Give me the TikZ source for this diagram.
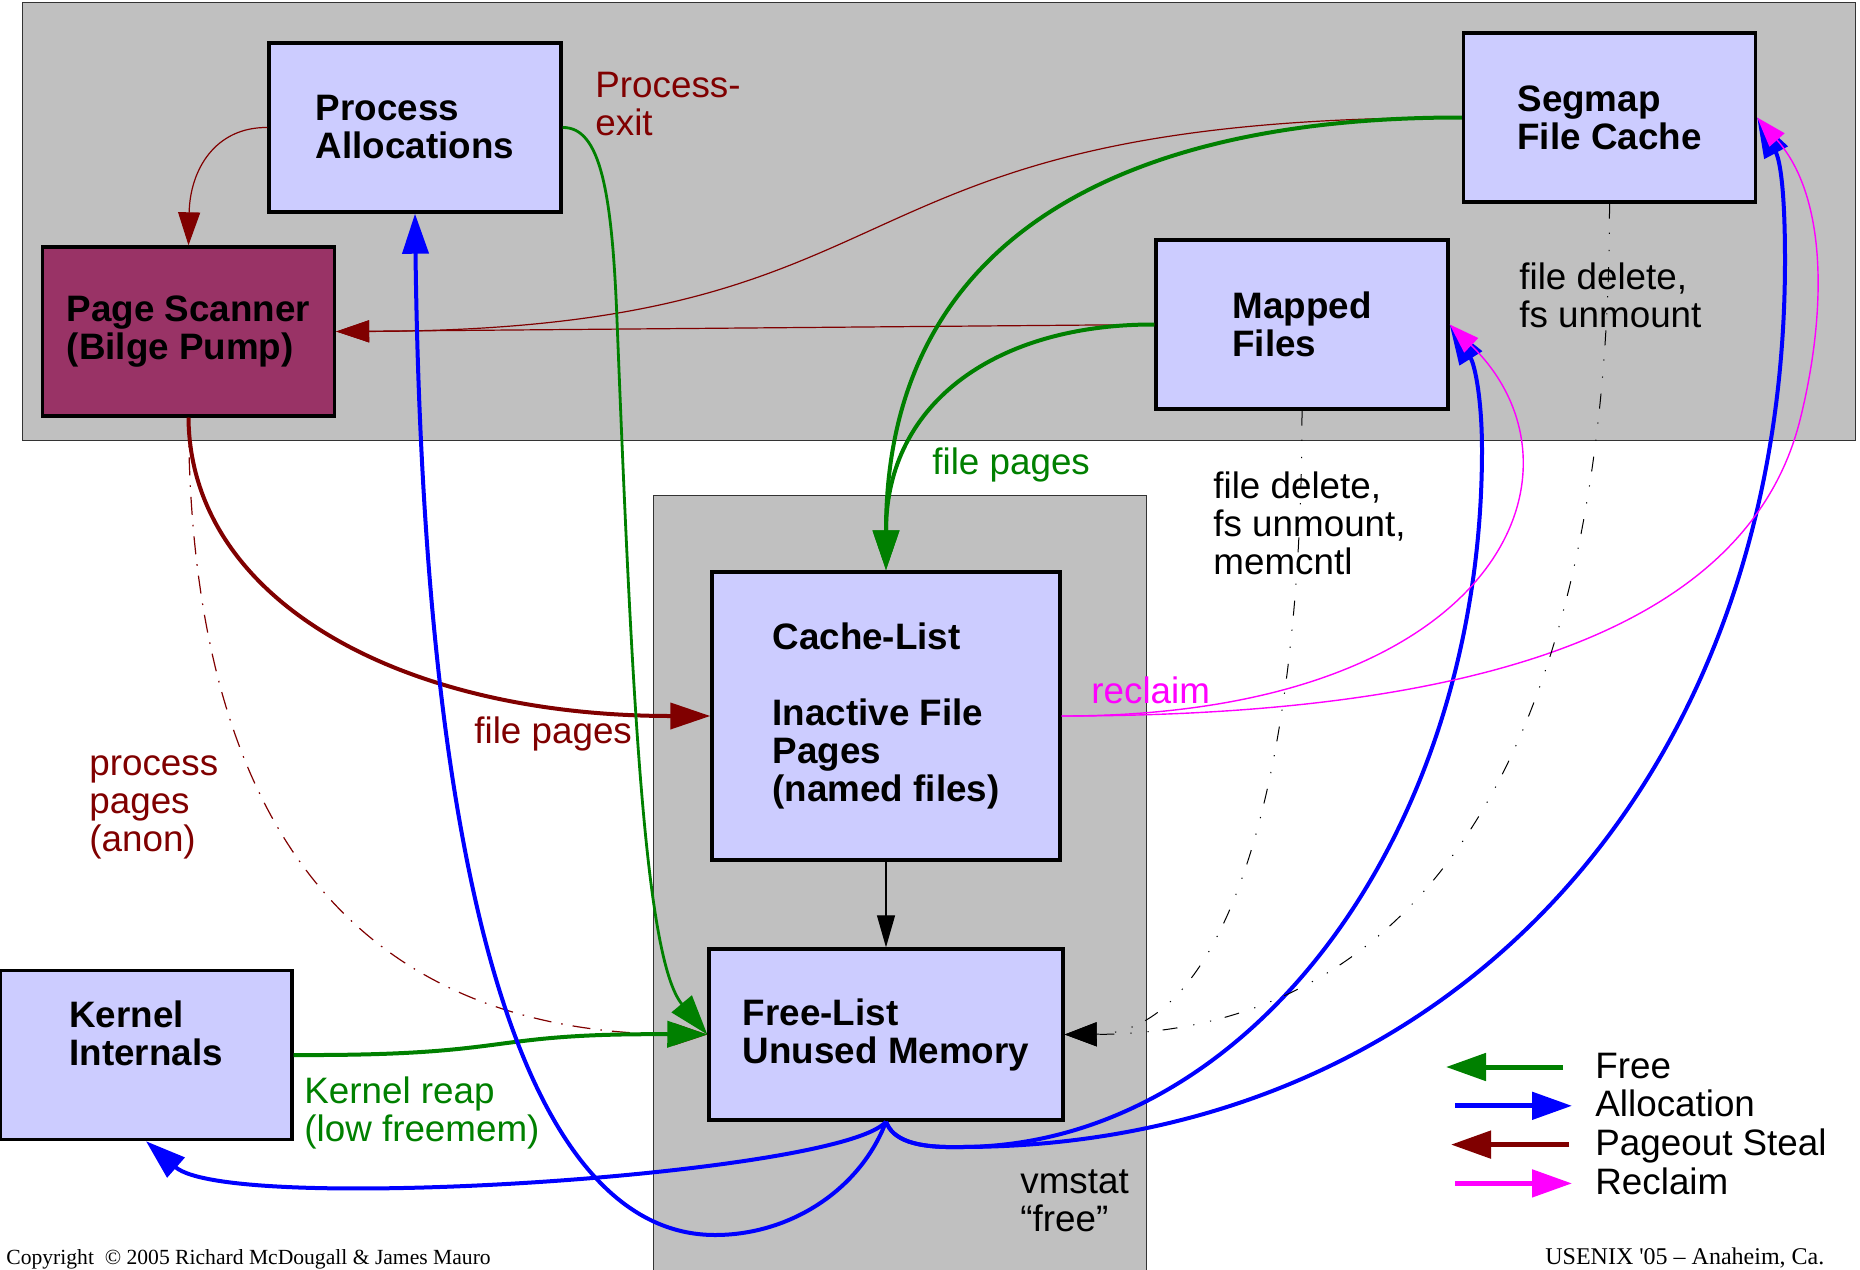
\documentclass[tikz,border=0pt]{standalone}
\usepackage{fontspec}
\setmainfont{Liberation Sans}
\newfontfamily\footfont{Liberation Serif}
\usetikzlibrary{arrows.meta}
\usetikzlibrary{positioning}

\definecolor{boxblue}{RGB}{204,204,255}
\definecolor{scannerred}{RGB}{153,51,102}
\definecolor{bandgray}{RGB}{192,192,192}
\definecolor{stealred}{RGB}{128,0,0}
\definecolor{freegreen}{RGB}{0,128,0}
\definecolor{allocblue}{RGB}{0,0,255}
\definecolor{reclaimpink}{RGB}{255,0,255}

\newcommand{\boxfont}{\fontsize{18.4}{19}\selectfont\bfseries}
\newcommand{\notefont}{\fontsize{18.4}{19}\selectfont}

\begin{document}
\begin{tikzpicture}[
        x=0.5pt, y=-0.5pt,
        box/.style={
            rectangle,
            draw,
            line width=1.7pt,
            fill=boxblue,
            minimum width=146pt,
            minimum height=84.5pt,
            inner sep=0pt,
            align=left,
            font=\boxfont
        },
        note/.style={
            anchor=base west,
            inner sep=0pt,
            align=left,
            font=\notefont
        },
        legtext/.style={
            inner sep=0pt,
            text height=14.7pt,
            text depth=3.7pt,
            font=\notefont
        },
        bigtip/.style={-{Triangle[length=20pt,width=13pt]}},
        freearrow/.style={bigtip, draw=freegreen, line width=2pt},
        freemid/.style={bigtip, draw=freegreen, line width=1.4pt},
        allocarrow/.style={bigtip, draw=allocblue, line width=2pt},
        stealarrow/.style={bigtip, draw=stealred, line width=2pt},
        thinsteal/.style={
            -{Triangle[length=16.5pt,width=11pt]},
            draw=stealred,
            line width=0.6pt
        },
        reclaimarrow/.style={
            -{Triangle[length=15pt,width=10pt]},
            draw=reclaimpink,
            line width=0.7pt
        },
        purge/.style={
            -{Triangle[length=16pt,width=12pt]},
            line width=0.5pt,
            dash pattern=on 7.5pt off 7pt on 0.6pt off 8pt on 0.6pt off 8pt
        },
        legarrow/.style={
            -{Triangle[length=20pt,width=13.5pt]},
            line width=2.5pt
        }
    ]

    \useasboundingbox (0,0) rectangle (1860,1270);

    % Background regions
    \filldraw[fill=bandgray, draw=black!80, line width=0.5pt] (22.5,2) rectangle (1855,440);
    \filldraw[fill=bandgray, draw=black!80, line width=0.5pt] (653.5,495) rectangle (1146.5,1290);

    % Nodes
    \node[box] (procalloc) at (415,127.5) {Process\\Allocations};
    \node[box, fill=scannerred] (scanner) at (188.5,331.5) {Page Scanner\\(Bilge Pump)};
    \node[box] (segmap) at (1609.5,117.5) {Segmap\\File Cache};
    \node[box] (mapped) at (1302,324.5) {Mapped\\Files};
    \node[box, minimum width=174pt, minimum height=144pt] (cachelist) at (886,716)
        {Cache-List\\[19pt]Inactive File\\Pages\\(named files)};
    \node[box, minimum width=177pt, minimum height=85.5pt] (freelist) at (886,1034.5)
        {Free-List\\Unused Memory};
    \node[box, text height=33pt, text depth=23pt] (kernel) at (146,1055) {Kernel\\Internals};

    % Pageout steal
    \draw[thinsteal] (procalloc.west) .. controls (215,127) and (190,170) .. (scanner.north);
    \draw[thinsteal] (segmap.west) .. controls (800,117) and (950,330) .. (scanner.east);
    \draw[thinsteal] (mapped.west) -- (scanner.east);
    \draw[stealarrow] (scanner.south) .. controls (190,600) and (400,716) .. (cachelist.west);
    \draw[thinsteal, dash pattern=on 9pt off 5pt on 0.8pt off 5pt]
        (scanner.south) .. controls (190,920) and (440,1033) .. (freelist.west);

    % Free
    \draw[freemid] (procalloc.east) .. controls (600,127) and (612,190) .. (617,320)
        .. controls (632,700) and (645,960) .. (freelist.west);
    \draw[freearrow] (segmap.west) .. controls (1150,117) and (886,220) .. (cachelist.north);
    \draw[freearrow] (mapped.west) .. controls (1000,324) and (886,400) .. (cachelist.north);
    \draw[freearrow] (kernel.east) .. controls (520,1056) and (480,1033) .. (freelist.west);

    % Allocation
    \draw[allocarrow] (freelist.south) .. controls (860,1190) and (790,1235) .. (715,1235)
        .. controls (560,1235) and (425,1000) .. (procalloc.south);
    \draw[allocarrow] (freelist.south) .. controls (840,1175) and (230,1215) .. (kernel.south);
    \draw[allocarrow] (freelist.south) .. controls (893,1140) and (915,1148) .. (960,1147)
        .. controls (1248,1147) and (1482,835) .. (1482,450)
        .. controls (1482,400) and (1475,365) .. (mapped.east);
    \draw[allocarrow] (freelist.south) .. controls (893,1140) and (915,1148) .. (960,1147)
        .. controls (1450,1147) and (1785,780) .. (1785,260)
        .. controls (1785,190) and (1780,160) .. (segmap.east);

    % Reclaim
    \draw[reclaimarrow] (cachelist.east) .. controls (1500,716) and (1600,470) .. (mapped.east);
    \draw[reclaimarrow] (cachelist.east) .. controls (1500,716) and (1750,620) .. (1800,420)
        .. controls (1825,320) and (1830,200) .. (segmap.east);

    % File delete paths
    \draw[purge] (mapped.south) .. controls (1302,800) and (1220,1033) .. (freelist.east);
    \draw[purge] (segmap.south) .. controls (1610,700) and (1450,1033) .. (freelist.east);
    \draw[-{Triangle[length=16pt,width=9pt]}, line width=0.6pt] (cachelist.south) -- (freelist.north);

    % Labels (placed at the baseline of their last line)
    \node[note, text=stealred] (exitnote) at (595,135) {Process-\\exit};
    \node[note, text=freegreen] (cachenote) at (932,474) {file pages};
    \node[note] (mappednote) at (1213,574) {file delete,\\fs unmount,\\memcntl};
    \node[note] (segmapnote) at (1519,327) {file delete,\\fs unmount};
    \node[note, text=reclaimpink] (reclaimnote) at (1091,703) {reclaim};
    \node[note, text=stealred] (filenote) at (474,743) {file pages};
    \node[note, text=stealred] (anonnote) at (89,851) {process\\pages\\(anon)};
    \node[note, text=freegreen] (reapnote) at (304,1141) {Kernel reap\\(low freemem)};
    \node[note] (vmstatnote) at (1020,1231) {vmstat\\“free”};

    % Legend
    \node[legtext, anchor=base west] (lfree) at (1595,1078) {Free};
    \node[legtext, below=0.6pt of lfree.south west, anchor=north west] (lalloc) {Allocation};
    \node[legtext, below=0.6pt of lalloc.south west, anchor=north west] (lsteal) {Pageout Steal};
    \node[legtext, below=0.6pt of lsteal.south west, anchor=north west] (lreclaim) {Reclaim};
    \draw[legarrow, freegreen] ([xshift=-16pt]lfree.west) -- ([xshift=-74.5pt]lfree.west);
    \draw[legarrow, allocblue] ([xshift=-70pt]lalloc.west) -- ([xshift=-11.5pt]lalloc.west);
    \draw[legarrow, stealred] ([xshift=-13pt]lsteal.west) -- ([xshift=-72pt]lsteal.west);
    \draw[legarrow, reclaimpink] ([xshift=-70pt]lreclaim.west) -- ([xshift=-11.5pt]lreclaim.west);

    % Footer
    \node[anchor=base west, inner sep=0pt, font=\footfont\fontsize{10.8}{13}\selectfont] (copyr) at (6,1264)
        {Copyright \ \textcopyright\ 2005 Richard McDougall \& James Mauro};
    \node[anchor=base west, inner sep=0pt, font=\footfont\fontsize{12}{14}\selectfont] (venue) at (1545,1264)
        {USENIX '05 \textendash\ Anaheim, Ca.};

\end{tikzpicture}
\end{document}
